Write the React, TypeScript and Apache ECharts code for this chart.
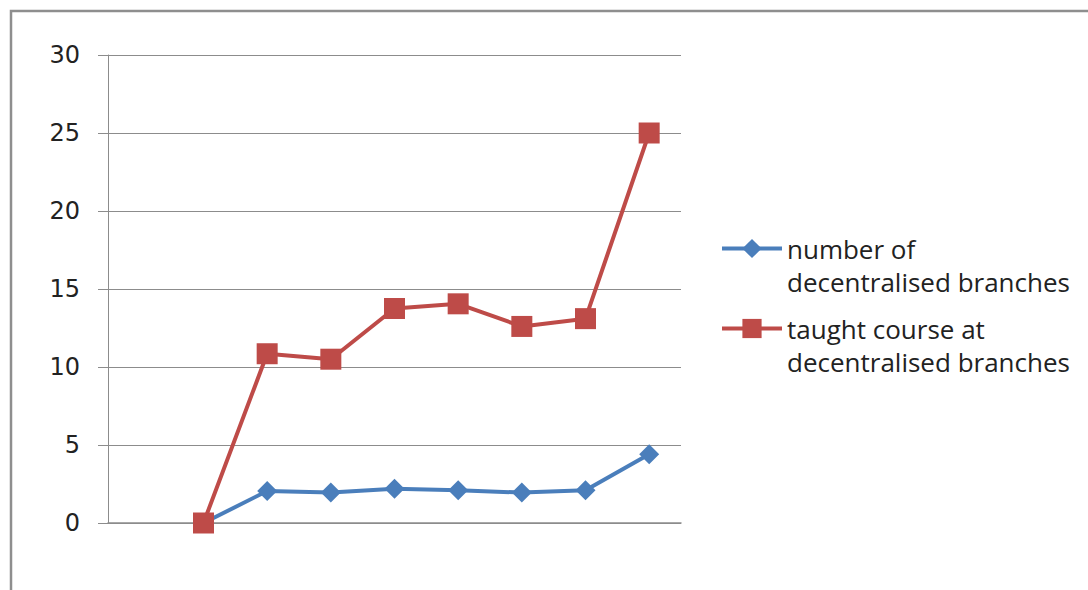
import React, { useEffect, useRef } from "react";
import * as echarts from "echarts";

// Nine category slots along the x axis; the first slot holds no data.
const categories = ["", "1", "2", "3", "4", "5", "6", "7", "8"];
const yTicks = { min: 0, max: 30, interval: 5 };

const branchesName = "number of\ndecentralised branches";
const coursesName = "taught course at\ndecentralised branches";

const branches = [null, 0, 2.05, 1.95, 2.2, 2.1, 1.95, 2.1, 4.4];
const courses = [null, 0, 10.85, 10.5, 13.75, 14.05, 12.6, 13.1, 25];

const BLUE = "#4a7ebb";
const RED = "#be4b48";
const GRID = "#8c8c8c";

export default function App() {
  const ref = useRef<HTMLDivElement>(null);

  useEffect(() => {
    if (!ref.current) return;
    const chart = echarts.init(ref.current, undefined, { renderer: "svg" });

    const legendText = {
      fontFamily: "Open Sans",
      fontSize: 26,
      lineHeight: 33,
      color: "#222",
    };
    const legendBase = {
      orient: "vertical" as const,
      left: 720,
      padding: 0,
      itemWidth: 60,
      itemHeight: 24,
      itemGap: 0,
      textStyle: legendText,
      lineStyle: { width: 4 },
      formatter: (name: string) => "\n" + name,
    };

    chart.setOption({
      animation: false,
      backgroundColor: "#fff",
      graphic: [
        {
          type: "rect",
          shape: { x: 11, y: 11, width: 1200, height: 800 },
          style: { fill: "none", stroke: "#8e8e8e", lineWidth: 2.5 },
          silent: true,
        },
      ],
      grid: { left: 108, right: 407, top: 55, bottom: 67 },
      legend: [
        { ...legendBase, top: 199, data: [branchesName] },
        { ...legendBase, top: 279, data: [coursesName] },
      ],
      xAxis: {
        type: "category",
        data: categories,
        boundaryGap: true,
        axisLine: { show: true, lineStyle: { color: GRID, width: 1.5 } },
        axisTick: { show: false },
        axisLabel: { show: false },
        splitLine: { show: false },
      },
      yAxis: {
        type: "value",
        min: yTicks.min,
        max: yTicks.max,
        interval: yTicks.interval,
        axisLine: { show: true, lineStyle: { color: GRID, width: 1 } },
        axisTick: { show: true, length: 10, lineStyle: { color: GRID, width: 1 } },
        axisLabel: {
          margin: 28,
          fontFamily: "DejaVu Sans",
          fontSize: 24,
          color: "#222",
        },
        splitLine: { show: true, lineStyle: { color: GRID, width: 1 } },
      },
      series: [
        {
          name: branchesName,
          type: "line",
          data: branches,
          symbol: "diamond",
          symbolSize: 20,
          lineStyle: { color: BLUE, width: 4 },
          itemStyle: { color: BLUE },
        },
        {
          name: coursesName,
          type: "line",
          data: courses,
          symbol: "rect",
          symbolSize: 21,
          lineStyle: { color: RED, width: 4 },
          itemStyle: { color: RED },
        },
      ],
    });

    return () => chart.dispose();
  }, []);

  return (
    <div
      ref={ref}
      style={{ position: "fixed", left: 0, top: 0, width: 1088, height: 590 }}
    />
  );
}
